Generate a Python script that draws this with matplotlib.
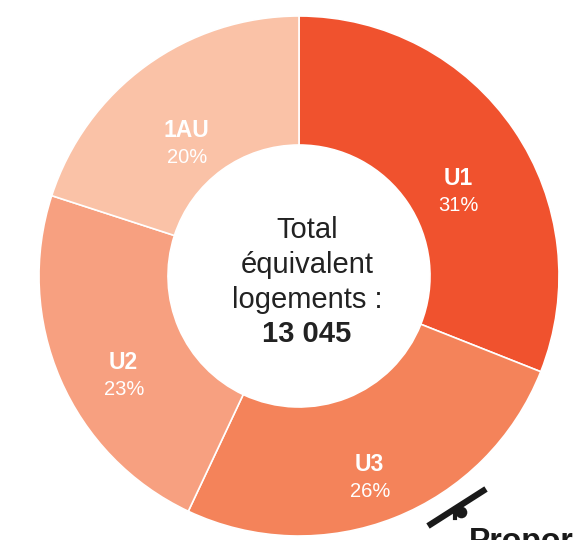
import numpy as np
import matplotlib.pyplot as plt

plt.rcParams['font.family'] = ['Liberation Sans', 'DejaVu Sans']

# data
categories = ["U1", "U3", "U2", "1AU"]
shares = [31, 26, 23, 20]
colors = ["#F0522E", "#F4835A", "#F7A080", "#FAC2A7"]
total_label = "13 045"

W, H = 573, 540
fig = plt.figure(figsize=(W / 100, H / 100), dpi=100)
ax = fig.add_axes([0, 0, 1, 1])
ax.set_xlim(0, W)
ax.set_ylim(0, H)
ax.set_aspect('equal')
ax.axis('off')

cx, cy = 299, H - 276
r_out, r_in = 260, 131

wedges, _ = ax.pie(shares, colors=colors, startangle=90, counterclock=False,
                   center=(cx, cy), radius=r_out,
                   wedgeprops=dict(width=r_out - r_in, edgecolor='white', linewidth=1.2))
ax.set_xlim(0, W)
ax.set_ylim(0, H)

# labels inside the ring
for w, name, pct in zip(wedges, categories, shares):
    mid = np.deg2rad((w.theta1 + w.theta2) / 2)
    rl = 192
    x = cx + rl * np.cos(mid)
    y = cy + rl * np.sin(mid) - 23
    ax.text(x, y + 13, name, ha='center', va='center', color='white',
            fontsize=16.5, fontweight='bold')
    ax.text(x + 1, y - 14, f"{pct}%", ha='center', va='center', color='white',
            fontsize=14.5)

# centre text
tc = '#222222'
ax.text(cx + 8, cy + 46, "Total", ha='center', va='center', fontsize=21, color=tc)
ax.text(cx + 8, cy + 11, "équivalent", ha='center', va='center', fontsize=21, color=tc)
ax.text(cx + 8, cy - 24, "logements :", ha='center', va='center', fontsize=21, color=tc)
ax.text(cx + 8, cy - 58, total_label, ha='center', va='center', fontsize=21,
        fontweight='bold', color=tc)

# leader of the next annotation (cut off at the border)
ax.plot([428, 486], [H - 526, H - 489], color='#1a1a1a', lw=4.5, solid_capstyle='butt')
ax.plot([455, 455], [H - 509, H - 518], color='#1a1a1a', lw=3)
ax.scatter([461], [H - 512], s=70, color='#1a1a1a', zorder=3, linewidths=0)
ax.text(469, H - 527, "Proportion", ha='left', va='top', fontsize=23,
        fontweight='bold', color='#1a1a1a', clip_on=False)

fig.savefig("out.png", dpi=100)
